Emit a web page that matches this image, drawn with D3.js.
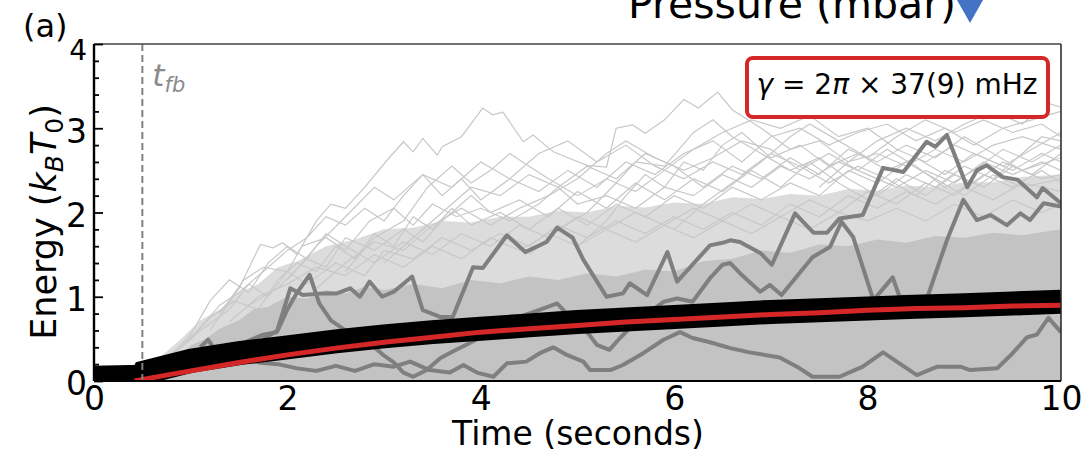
<!DOCTYPE html>
<html><head><meta charset="utf-8">
<script src="https://cdn.jsdelivr.net/npm/d3@7"></script>
<style>body{margin:0;background:#fff}svg{display:block;font-family:"DejaVu Sans",sans-serif}</style>
</head><body><svg id="c" width="1086" height="453"></svg>
<script>
// ---------- data ----------
const xTicks = [0, 2, 4, 6, 8, 10];
const yTicks = [0, 1, 2, 3, 4];
const tFeedback = 0.5;
// ensemble mean (black band)
const meanEnergy = [[0,0.04],[0.5,0.05],[0.52,0.1],[1,0.24],[1.5,0.33],[2,0.4],[2.5,0.47],[3,0.53],[3.5,0.58],[4,0.62],[4.5,0.66],[5,0.7],[5.5,0.73],[6,0.76],[6.5,0.79],[7,0.82],[7.5,0.84],[8,0.86],[8.5,0.88],[9,0.9],[9.5,0.92],[10,0.94]];
// fit (red)
const fitEnergy = [[0.42,0],[0.75,0.07],[1,0.12],[1.5,0.22],[2,0.31],[2.5,0.39],[3,0.46],[3.5,0.52],[4,0.58],[4.5,0.62],[5,0.66],[5.5,0.7],[6,0.73],[6.5,0.76],[7,0.79],[7.5,0.81],[8,0.84],[8.5,0.86],[9,0.87],[9.5,0.89],[10,0.9]];
// envelopes of the trace cloud
const denseTop = [[0.5,0],[0.7,0.18],[0.85,0.25],[1,0.42],[1.15,0.5],[1.3,0.62],[1.5,0.72],[1.65,0.85],[1.8,0.88],[2,1.0],[2.2,0.98],[2.4,1.08],[2.6,1.04],[2.8,1.12],[3.0,1.08],[3.3,1.15],[3.6,1.1],[3.9,1.2],[4.2,1.16],[4.5,1.24],[4.8,1.2],[5.1,1.28],[5.4,1.24],[5.7,1.32],[6.0,1.3],[6.3,1.42],[6.6,1.45],[6.9,1.55],[7.2,1.52],[7.5,1.62],[7.8,1.6],[8.1,1.68],[8.4,1.64],[8.7,1.72],[9.0,1.7],[9.3,1.76],[9.6,1.73],[10,1.8]];
const cloudTop = [[0.5,0],[0.7,0.3],[0.9,0.5],[1.1,0.72],[1.3,0.85],[1.5,1.05],[1.7,1.15],[1.9,1.35],[2.1,1.42],[2.4,1.6],[2.7,1.68],[3.0,1.8],[3.3,1.82],[3.6,1.9],[3.9,1.88],[4.2,1.95],[4.5,1.95],[4.8,2.02],[5.1,2.0],[5.4,2.08],[5.7,2.06],[6.0,2.12],[6.3,2.1],[6.6,2.18],[6.9,2.16],[7.2,2.22],[7.5,2.2],[7.8,2.28],[8.1,2.26],[8.4,2.32],[8.7,2.3],[9.0,2.36],[9.3,2.36],[9.6,2.42],[10,2.45]];
// individual light traces above the cloud
const sparse1 = [[1.2,0.6],[1.5,1.1],[1.72,1.62],[1.85,1.58],[1.95,1.64],[2.1,1.5],[2.3,1.9],[2.45,2.1],[2.6,2.05],[2.8,2.3],[3.03,2.62],[3.2,2.84],[3.3,2.72],[3.4,2.88],[3.55,2.68],[3.6,2.78],[3.8,2.9],[4.02,3.24],[4.12,3.16],[4.23,3.19],[4.44,2.84],[4.54,2.92],[4.75,2.72],[4.9,2.65],[5.1,2.56],[5.3,2.54],[5.4,3.0],[5.57,3.04],[5.7,2.94],[5.9,3.1],[6.1,3.34],[6.25,3.24],[6.45,3.43],[6.6,3.22],[6.9,3.0],[7.2,2.75],[7.5,2.85],[7.8,2.6],[8.1,2.7],[8.4,2.55],[8.7,2.75],[9.0,2.6],[9.3,2.8],[9.6,2.9],[10,2.75]];
const sparse2 = [[1.0,0.5],[1.3,0.9],[1.5,1.05],[1.7,1.25],[2.0,1.55],[2.2,1.7],[2.4,1.95],[2.6,1.85],[2.8,2.05],[3.0,1.9],[3.2,2.2],[3.4,2.45],[3.6,2.2],[3.8,2.4],[4.0,2.15],[4.3,2.4],[4.6,2.25],[4.9,2.5],[5.2,2.3],[5.5,2.6],[5.8,2.45],[6.1,2.7],[6.4,2.85],[6.7,2.6],[7.0,2.9],[7.3,3.0],[7.6,2.8],[7.9,2.95],[8.2,3.05],[8.5,2.85],[8.8,3.0],[9.1,2.8],[9.4,3.0],[9.7,3.1],[10,3.2]];
const sparse3 = [[1.3,0.8],[1.55,1.2],[1.75,1.35],[2.0,1.3],[2.15,1.6],[2.4,1.7],[2.6,1.55],[2.85,1.9],[3.1,2.05],[3.3,1.85],[3.5,2.1],[3.75,1.95],[4.0,2.05],[4.3,1.9],[4.6,2.1],[4.8,2.3],[5.0,2.1],[5.3,2.2],[5.6,2.05],[5.9,2.3],[6.2,2.2],[6.5,2.45],[6.8,2.3],[7.1,2.55],[7.4,2.4],[7.7,2.6],[8.0,2.45],[8.3,2.3],[8.6,2.5],[8.9,2.35],[9.2,2.6],[9.5,2.45],[9.8,2.6],[10,2.5]];
const sparse4 = [[2.6,1.3],[2.9,1.7],[3.2,1.9],[3.45,2.3],[3.7,2.55],[3.9,2.35],[4.1,2.5],[4.3,2.7],[4.5,2.55],[4.7,2.4],[5.0,2.2],[5.3,2.4],[5.6,2.25],[5.9,2.5],[6.2,2.75],[6.5,2.95],[6.8,3.1],[7.1,3.0],[7.4,3.15],[7.7,2.9],[8.0,3.0],[8.3,2.75],[8.6,2.6],[8.9,2.8],[9.2,2.65],[9.5,2.5],[9.8,2.7],[10,2.6]];
const sparse5 = [[4.5,1.5],[4.8,1.8],[5.1,2.0],[5.4,2.35],[5.6,2.6],[5.9,2.55],[6.2,2.95],[6.4,3.1],[6.6,2.9],[6.9,2.7],[7.2,2.5],[7.5,2.65],[7.8,2.4],[8.1,2.2],[8.4,2.45],[8.7,2.3],[9.0,2.55],[9.3,2.4],[9.6,2.7],[9.8,2.9],[10,2.85]];
const sparse6 = [[0.9,0.4],[1.2,0.75],[1.45,0.95],[1.7,0.85],[1.9,1.2],[2.1,1.4],[2.3,1.3],[2.5,1.6],[2.7,1.45],[2.9,1.75],[3.1,1.6],[3.3,1.95],[3.5,1.8],[3.7,2.05],[3.9,1.85],[4.2,2.0],[4.5,1.8],[4.8,2.05],[5.1,1.85],[5.4,2.1],[5.7,1.95],[6.0,2.2],[6.3,2.05],[6.6,2.3],[6.9,2.15],[7.2,2.35],[7.5,2.2],[7.8,2.5],[8.1,2.35],[8.4,2.6],[8.7,2.4],[9.0,2.2],[9.3,2.45],[9.6,2.3],[10,2.4]];
const sparse7 = [[0.8,0.3],[1.1,0.6],[1.4,0.85],[1.6,1.15],[1.8,1.0],[2.0,1.3],[2.2,1.15],[2.5,1.4],[2.8,1.25],[3.0,1.55],[3.3,1.45],[3.6,1.7],[3.9,1.55],[4.2,1.75],[4.5,1.6],[4.8,1.85],[5.1,1.7],[5.4,1.9],[5.7,1.75],[6.0,1.95],[6.3,1.8],[6.6,2.0],[6.9,1.85],[7.2,2.1],[7.5,1.95],[7.8,2.2],[8.1,2.05],[8.4,2.25],[8.7,2.1],[9.0,2.3],[9.3,2.15],[9.6,2.35],[10,2.25]];
const sparse8 = [[5.0,1.6],[5.3,1.9],[5.5,2.2],[5.7,2.45],[5.9,2.3],[6.1,2.6],[6.3,2.5],[6.5,2.8],[6.7,2.95],[7.0,2.65],[7.3,2.8],[7.6,2.55],[7.9,2.7],[8.2,2.5],[8.5,2.65],[8.8,2.45],[9.1,2.7],[9.4,2.55],[9.7,2.75],[10,2.95]];
const sparse9 = [[7.5,2.3],[7.8,2.6],[8.1,2.85],[8.4,3.0],[8.7,2.85],[9.0,3.05],[9.3,3.2],[9.6,3.05],[9.85,3.3],[10,3.25]];
const sparse10 = [[1.6,0.9],[1.9,1.1],[2.2,1.45],[2.4,1.35],[2.6,1.7],[2.9,1.55],[3.2,1.8],[3.4,1.65],[3.6,1.9],[3.9,2.2],[4.1,2.0],[4.4,2.15],[4.7,1.95],[5.0,2.25],[5.3,2.05],[5.6,2.35],[5.9,2.15],[6.2,2.4],[6.5,2.25],[6.8,2.5],[7.1,2.3],[7.4,2.6],[7.7,2.35],[8.0,2.15],[8.3,2.4],[8.6,2.2],[8.9,2.45],[9.2,2.3],[9.5,2.55],[9.8,2.4],[10,2.45]];
const sparse11 = [[2.0,1.2],[2.3,1.6],[2.6,1.95],[2.9,2.3],[3.1,2.15],[3.4,2.45],[3.7,2.3],[4.0,2.6],[4.3,2.4],[4.6,2.7],[4.9,2.85],[5.2,2.6],[5.5,2.8],[5.8,2.55],[6.1,2.4],[6.4,2.6],[6.7,2.45],[7.0,2.7],[7.3,2.55],[7.6,2.35],[7.9,2.55],[8.2,2.4],[8.5,2.2],[8.8,2.5],[9.1,2.35],[9.4,2.6],[9.7,2.45],[10,2.7]];
const sparse12 = [[0.7,0.2],[1.0,0.55],[1.2,0.95],[1.4,1.2],[1.6,1.05],[1.8,1.4],[2.0,1.6],[2.2,1.45],[2.4,1.75],[2.6,1.6],[2.9,1.4],[3.2,1.65],[3.5,1.5],[3.8,1.75],[4.1,1.6],[4.4,1.85],[4.7,1.7],[5.0,1.95],[5.3,1.8],[5.6,2.0],[5.9,1.85],[6.2,2.05],[6.5,1.9],[6.8,2.1],[7.1,1.95],[7.4,2.15],[7.7,2.0],[8.0,2.25],[8.3,2.1],[8.6,2.35],[8.9,2.2],[9.2,2.45],[9.5,2.3],[9.8,2.5],[10,2.35]];
const sparse13 = [[3.0,1.4],[3.3,1.7],[3.6,2.0],[3.9,2.3],[4.2,2.2],[4.5,2.45],[4.8,2.3],[5.1,2.55],[5.4,2.4],[5.7,2.7],[6.0,2.55],[6.3,2.3],[6.6,2.55],[6.9,2.4],[7.2,2.65],[7.5,2.45],[7.8,2.75],[8.1,2.6],[8.4,2.8],[8.7,2.65],[9.0,2.9],[9.3,2.7],[9.6,2.5],[10,2.65]];
const sparse14 = [[1.4,0.7],[1.7,1.0],[2.0,1.15],[2.3,1.35],[2.6,1.25],[2.9,1.5],[3.2,1.35],[3.5,1.6],[3.8,1.45],[4.1,1.7],[4.4,1.55],[4.7,1.75],[5.0,1.6],[5.3,1.8],[5.6,1.65],[5.9,1.85],[6.2,1.7],[6.5,1.9],[6.8,1.75],[7.1,1.95],[7.4,1.8],[7.7,2.0],[8.0,1.9],[8.3,2.05],[8.6,1.9],[8.9,2.1],[9.2,1.95],[9.5,2.15],[9.8,2.0],[10,2.1]];
const sparse15 = [[6.0,1.8],[6.3,2.1],[6.6,2.35],[6.9,2.6],[7.2,2.9],[7.4,3.05],[7.7,2.85],[8.0,2.65],[8.3,2.9],[8.6,3.1],[8.9,2.95],[9.2,3.1],[9.5,2.95],[9.8,3.05],[10,2.9]];
const sparse16 = [[2.3,1.1],[2.6,1.4],[2.9,1.65],[3.2,1.55],[3.5,1.85],[3.8,2.05],[4.1,1.85],[4.4,2.05],[4.7,2.2],[5.0,2.4],[5.3,2.7],[5.5,2.85],[5.8,2.65],[6.1,2.5],[6.4,2.65],[6.7,2.85],[7.0,2.75],[7.3,2.5],[7.6,2.7],[7.9,2.5],[8.2,2.75],[8.5,2.55],[8.8,2.3],[9.1,2.5],[9.4,2.75],[9.7,2.6],[10,2.8]];
// highlighted (dark grey) single traces
const traceA = [[1.1,0.4],[1.18,0.49],[1.25,0.37],[1.35,0.4],[1.54,0.45],[1.75,0.55],[1.89,0.58],[2.03,1.1],[2.16,1.02],[2.37,1.04],[2.51,1.04],[2.65,1.1],[2.75,1.0],[2.85,1.18],[2.98,1.0],[3.1,1.06],[3.29,1.24],[3.4,0.84],[3.58,0.76],[3.71,0.76],[3.92,1.35],[4.02,1.34],[4.27,1.73],[4.46,1.53],[4.68,1.65],[4.79,1.82],[4.95,1.7],[5.06,1.44],[5.3,1.0],[5.47,1.04],[5.54,1.16],[5.72,1.02],[5.93,1.53],[6.03,1.18],[6.37,1.61],[6.5,1.64],[6.58,1.67],[6.68,1.65],[6.89,1.52],[7.01,1.38],[7.25,1.99],[7.44,1.76],[7.58,1.76],[7.71,1.93],[7.95,1.97],[8.16,2.53],[8.37,2.48],[8.61,2.84],[8.7,2.78],[8.82,2.92],[9.03,2.3],[9.13,2.5],[9.23,2.56],[9.4,2.42],[9.55,2.39],[9.75,2.18],[9.81,2.29],[10,2.11]];
const traceB = [[1.75,0.5],[1.9,0.6],[2.0,0.85],[2.1,1.05],[2.23,1.26],[2.33,0.92],[2.45,0.72],[2.6,0.6],[2.75,0.5],[2.9,0.4],[3.0,0.3],[3.1,0.22],[3.2,0.1],[3.3,0.05],[3.44,0.13],[3.58,0.27],[3.71,0.35],[3.85,0.43],[4.0,0.52],[4.2,0.65],[4.4,0.76],[4.6,0.84],[4.79,0.92],[4.92,0.76],[5.1,0.58],[5.2,0.43],[5.33,0.37],[5.44,0.51],[5.57,0.66],[5.75,0.82],[5.89,0.94],[6.03,0.98],[6.19,0.94],[6.37,1.22],[6.5,1.38],[6.58,1.4],[6.68,1.28],[6.89,1.06],[6.99,1.14],[7.11,1.02],[7.43,1.47],[7.61,1.59],[7.73,1.89],[7.85,1.71],[8.06,0.96],[8.26,1.23],[8.33,1.0],[8.62,1.0],[8.82,1.67],[8.99,2.15],[9.13,1.91],[9.27,1.97],[9.44,1.85],[9.58,1.99],[9.68,1.91],[9.82,2.11],[10,2.07]];
const traceD = [[1.5,0.3],[1.7,0.22],[1.9,0.2],[2.1,0.15],[2.3,0.12],[2.5,0.18],[2.7,0.12],[2.9,0.2],[3.1,0.17],[3.27,0.23],[3.47,0.13],[3.68,0.1],[3.82,0.19],[3.96,0.1],[4.13,0.05],[4.27,0.21],[4.47,0.23],[4.61,0.33],[4.75,0.4],[4.89,0.31],[5.06,0.23],[5.13,0.13],[5.34,0.13],[5.47,0.19],[5.68,0.33],[5.89,0.49],[6.06,0.58],[6.19,0.51],[6.37,0.46],[6.58,0.39],[6.78,0.34],[7.09,0.28],[7.27,0.17],[7.43,0.05],[7.71,0.05],[7.95,0.17],[8.16,0.34],[8.51,0.07],[8.72,0.17],[8.96,0.17],[9.06,0.13],[9.34,0.15],[9.5,0.33],[9.65,0.52],[9.75,0.55],[9.87,0.75],[10,0.58]];

// ---------- drawing ----------
const svg = d3.select("#c");
const x = d3.scaleLinear([0, 10], [94, 1061]);
const y = d3.scaleLinear([0, 4], [381, 44]);
const line = d3.line().x(d => x(d[0])).y(d => y(d[1]));
const area = d3.area().x(d => x(d[0])).y0(y(0)).y1(d => y(d[1]));

svg.append("defs").append("clipPath").attr("id", "plot")
  .append("rect").attr("x", x(0)).attr("y", y(4)).attr("width", x(10) - x(0)).attr("height", y(0) - y(4));
const g = svg.append("g").attr("clip-path", "url(#plot)");

g.append("path").attr("d", area(cloudTop)).attr("fill", "#dcdcdc");
const sparse = [sparse1, sparse2, sparse3, sparse4, sparse5, sparse6, sparse7, sparse8, sparse9, sparse10, sparse11, sparse12, sparse13, sparse14, sparse15, sparse16];
sparse.forEach(s =>
  g.append("path").attr("d", line(s)).attr("fill", "none").attr("stroke", "#c8c8c8").attr("stroke-width", 1.2));
g.append("path").attr("d", area(denseTop)).attr("fill", "#c3c3c3");
[traceA, traceB, traceD].forEach(s =>
  g.append("path").attr("d", line(s)).attr("fill", "none").attr("stroke", "#7f7f7f")
    .attr("stroke-width", 4).attr("stroke-linejoin", "round"));
g.append("path").attr("d", line(meanEnergy)).attr("fill", "none").attr("stroke", "#000").attr("stroke-width", 24);
g.append("path").attr("d", line(fitEnergy)).attr("fill", "none").attr("stroke", "#d62728").attr("stroke-width", 5);

// feedback marker
svg.append("line").attr("x1", x(tFeedback)).attr("x2", x(tFeedback)).attr("y1", y(4)).attr("y2", y(0))
  .attr("stroke", "#808080").attr("stroke-width", 2).attr("stroke-dasharray", "7,4");
const tf = svg.append("text").attr("x", x(tFeedback) + 10).attr("y", 86).attr("fill", "#8a8a8a")
  .attr("font-size", 31).attr("font-style", "italic");
tf.append("tspan").text("t");
tf.append("tspan").attr("font-size", 21).attr("dy", 6).text("fb");

// spines
svg.append("line").attr("x1", x(0)).attr("x2", x(10)).attr("y1", y(4)).attr("y2", y(4)).attr("stroke", "#444").attr("stroke-width", 1.5);
svg.append("line").attr("x1", x(10)).attr("x2", x(10)).attr("y1", y(4)).attr("y2", y(0)).attr("stroke", "#222").attr("stroke-width", 1.5);
svg.append("line").attr("x1", x(0)).attr("x2", x(10)).attr("y1", y(0)).attr("y2", y(0)).attr("stroke", "#000").attr("stroke-width", 2);
svg.append("line").attr("x1", x(0)).attr("x2", x(0)).attr("y1", y(4)).attr("y2", y(0)).attr("stroke", "#000").attr("stroke-width", 2.4);

// y axis
const minor = d3.range(1, 20).map(i => i * 0.2).filter(v => Math.abs(v - Math.round(v)) > 1e-6);
const yMinor = svg.append("g").attr("transform", `translate(${x(0)},0)`)
  .call(d3.axisLeft(y).tickValues(minor).tickSize(-5).tickFormat(""));
yMinor.select(".domain").remove();
yMinor.selectAll("line").attr("stroke-width", 1.8);
const yAx = svg.append("g").attr("transform", `translate(${x(0)},0)`)
  .call(d3.axisLeft(y).tickValues(yTicks).tickSize(-9).tickPadding(7).tickFormat(d3.format("d")));
yAx.select(".domain").remove();
yAx.selectAll("line").attr("stroke-width", 1.8);
yAx.selectAll("text").attr("font-size", 33).attr("font-family", "DejaVu Sans").attr("fill", "#000").attr("dy", "0.42em");
yAx.selectAll(".tick").filter(d => d === 4).select("text").attr("font-size", 28).attr("dy", "0.55em");

// x axis
const xAx = svg.append("g").attr("transform", `translate(0,${y(0)})`)
  .call(d3.axisBottom(x).tickValues(xTicks).tickSize(0).tickPadding(6).tickFormat(d3.format("d")));
xAx.select(".domain").remove();
xAx.selectAll("text").attr("font-size", 33).attr("font-family", "DejaVu Sans").attr("fill", "#000");

// axis titles
svg.append("text").attr("x", 578).attr("y", 445).attr("text-anchor", "middle").attr("font-size", 33).text("Time (seconds)");
const yl = svg.append("text").attr("transform", "translate(56,222) rotate(-90)").attr("text-anchor", "middle").attr("font-size", 35);
yl.append("tspan").text("Energy (");
yl.append("tspan").attr("font-style", "italic").text("k");
yl.append("tspan").attr("font-style", "italic").attr("font-size", 25).attr("dy", 7).text("B");
yl.append("tspan").attr("font-style", "italic").attr("dy", -7).text("T");
yl.append("tspan").attr("font-size", 25).attr("dy", 7).text("0");
yl.append("tspan").attr("dy", -7).text(")");

// panel label and cut-off header
svg.append("text").attr("x", 23).attr("y", 37).attr("font-size", 32).text("(a)");
svg.append("text").attr("x", 628).attr("y", 18).attr("font-size", 41).text("Pressure (mbar)");
svg.append("path").attr("d", "M957,0 L983,0 L970,23 Z").attr("fill", "#4472c4");

// annotation box
svg.append("rect").attr("x", 747).attr("y", 58).attr("width", 301).attr("height", 59).attr("rx", 6)
  .attr("fill", "#fff").attr("stroke", "#d62728").attr("stroke-width", 4);
const ann = svg.append("text").attr("x", 897).attr("y", 94).attr("text-anchor", "middle").attr("font-size", 28);
ann.append("tspan").attr("font-style", "italic").text("γ");
ann.append("tspan").text(" = 2");
ann.append("tspan").attr("font-style", "italic").text("π");
ann.append("tspan").text(" × 37(9) mHz");
</script></body></html>
